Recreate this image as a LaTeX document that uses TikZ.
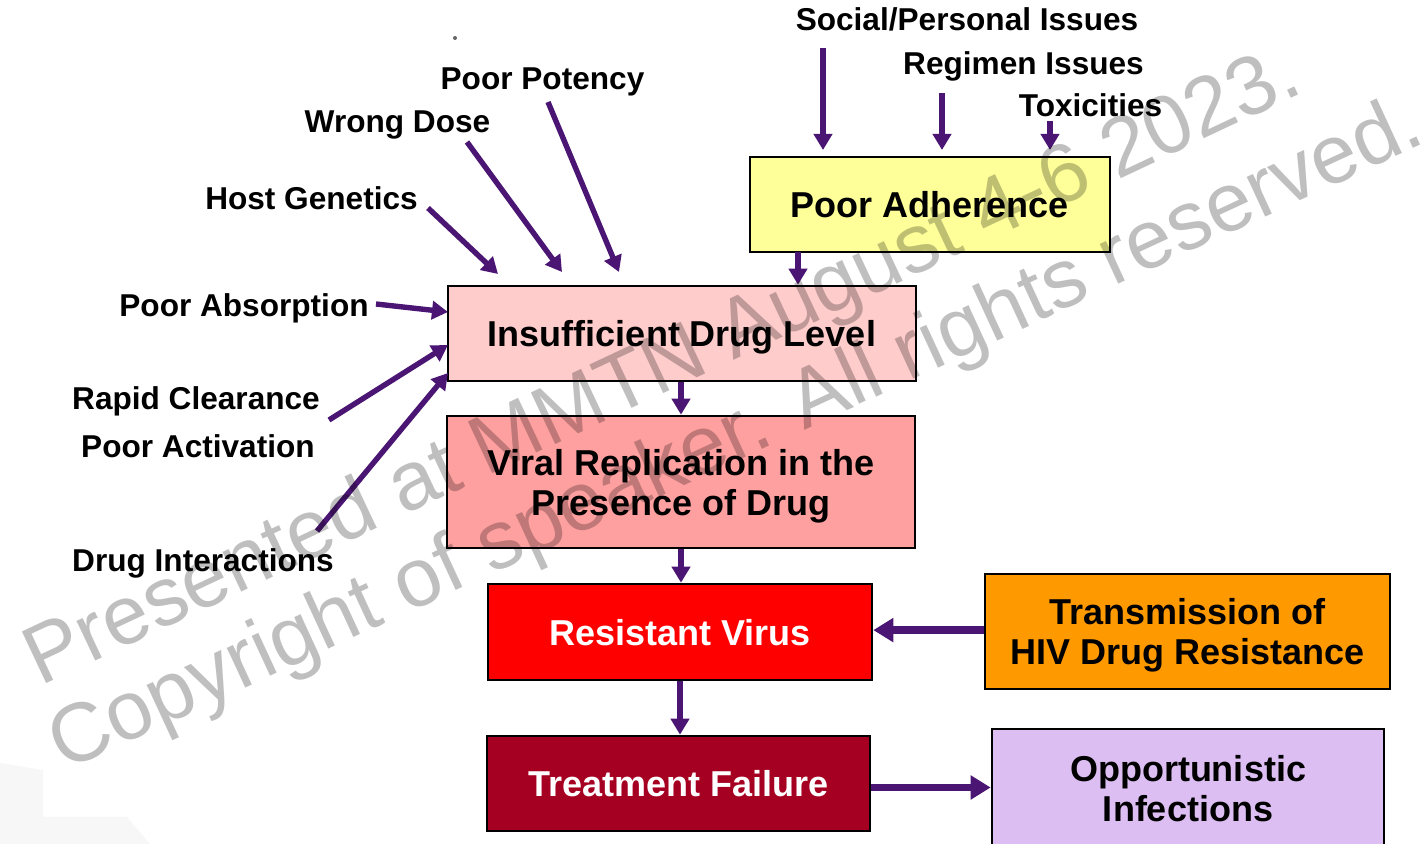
\documentclass[tikz,border=0pt]{standalone}
\usepackage{fontspec}
\setmainfont{Liberation Sans}
\usetikzlibrary{arrows.meta}
\definecolor{purp}{RGB}{75,22,115}
\definecolor{adhY}{RGB}{255,255,153}
\definecolor{insP}{RGB}{255,204,204}
\definecolor{virP}{RGB}{255,160,160}
\definecolor{resR}{RGB}{255,0,0}
\definecolor{tfR}{RGB}{165,0,33}
\definecolor{trO}{RGB}{255,153,0}
\definecolor{oppL}{RGB}{220,190,242}
\begin{document}
\begin{tikzpicture}[x=0.5pt,y=-0.5pt,
 box/.style={draw=black,line width=1.3pt,inner sep=0pt,align=center,text depth=0pt,font=\fontsize{18}{20}\selectfont\bfseries},
 lbl/.style={font=\fontsize{15.8}{18}\selectfont\bfseries,inner sep=0pt,anchor=base},
 arr/.style={draw=purp,line width=2.7pt,-{Triangle[width=9pt,length=8pt]}},
 arrT/.style={draw=purp,line width=3.6pt,-{Triangle[width=11.5pt,length=10pt]}},
 wm/.style={font=\fontsize{41.5}{41.5}\selectfont,text=black,text opacity=0.25,inner sep=0pt,anchor=base west}]
\clip (0,0) rectangle (1421,844);
\fill[white] (0,0) rectangle (1421,844);
\fill[black!3] (0,763) -- (43,770) -- (43,817) -- (127,817) -- (150,844) -- (0,844) -- cycle;
\fill[black!60] (455,38) circle (1pt);

% boxes
\node[box,fill=adhY,minimum width=180pt,minimum height=47.5pt] (adh) at (930,204.5) {Poor Adherence};
\node[box,fill=insP,minimum width=234pt,minimum height=47.5pt] (ins) at (682,333.5) {Insufficient Drug Level};
\node[box,fill=virP,minimum width=234pt,minimum height=66pt] (vir) at (681,482) {Viral Replication in the\\Presence of Drug};
\node[box,fill=resR,text=white,minimum width=192pt,minimum height=48pt] (res) at (680,632) {Resistant Virus};
\node[box,fill=tfR,text=white,minimum width=191.5pt,minimum height=47.5pt] (tf) at (678.5,783.5) {Treatment Failure};
\node[box,fill=trO,minimum width=202.5pt,minimum height=57.5pt] (tr) at (1187.5,631.5) {Transmission of\\HIV Drug Resistance};
\node[box,fill=oppL,minimum width=196pt,minimum height=59pt] (opp) at (1188,788) {Opportunistic\\Infections};

% labels
\node[lbl] (soc) at (967,31) {Social/Personal Issues};
\node[lbl] (reg) at (1023.5,75) {Regimen Issues};
\node[lbl] (tox) at (1090.5,117) {Toxicities};
\node[lbl] (pot) at (542.5,90) {Poor Potency};
\node[lbl] (dose) at (397.5,133) {Wrong Dose};
\node[lbl] (host) at (311.5,210) {Host Genetics};
\node[lbl] (abs) at (244,317) {Poor Absorption};
\node[lbl] (rap) at (196,410) {Rapid Clearance};
\node[lbl] (act) at (198,458) {Poor Activation};
\node[lbl] (int) at (203,572) {Drug Interactions};

% arrow end points
\coordinate (socA) at (823,48);   \coordinate (socB) at (823,150);
\coordinate (regA) at (942,93);   \coordinate (regB) at (942,150);
\coordinate (toxA) at (1050,121); \coordinate (toxB) at (1050,150);
\coordinate (potA) at (548,102);  \coordinate (potB) at (619,272);
\coordinate (doseA) at (467,142); \coordinate (doseB) at (562,272);
\coordinate (hostA) at (428,208); \coordinate (hostB) at (498,274);
\coordinate (absA) at (376,304);  \coordinate (absB) at (448,312);
\coordinate (rapA) at (329,420);  \coordinate (rapB) at (448,345);
\coordinate (intA) at (317,531);  \coordinate (intB) at (448,373);
\coordinate (adhOut) at (798,252);

\draw[arr] (socA) -- (socB);
\draw[arr] (regA) -- (regB);
\draw[arr] (toxA) -- (toxB);
\draw[arr] (potA) -- (potB);
\draw[arr] (doseA) -- (doseB);
\draw[arr] (hostA) -- (hostB);
\draw[arr] (absA) -- (absB);
\draw[arr] (rapA) -- (rapB);
\draw[arr] (intA) -- (intB);
\draw[arr] (adhOut) -- (adhOut |- ins.north);
\draw[arr] (ins.south -| vir.north) -- (vir.north);
\draw[arr] (vir.south) -- (vir.south |- res.north);
\draw[arr] (res.south) -- (res.south |- tf.north);
\draw[arrT] ([yshift=0.7pt]tr.west) -- ([yshift=0.7pt]tr.west -| res.east);
\draw[arrT] ([yshift=-2pt]tf.east) -- ([yshift=-2pt]tf.east -| opp.west);

% watermark
\node[wm,rotate=25.2] (wm1) at (40,687) {Presented at MMTN August 4-6 2023.};
\node[wm,rotate=24.8] (wm2) at (64,772) {Copyright of speaker. All rights reserved.};
\end{tikzpicture}
\end{document}
